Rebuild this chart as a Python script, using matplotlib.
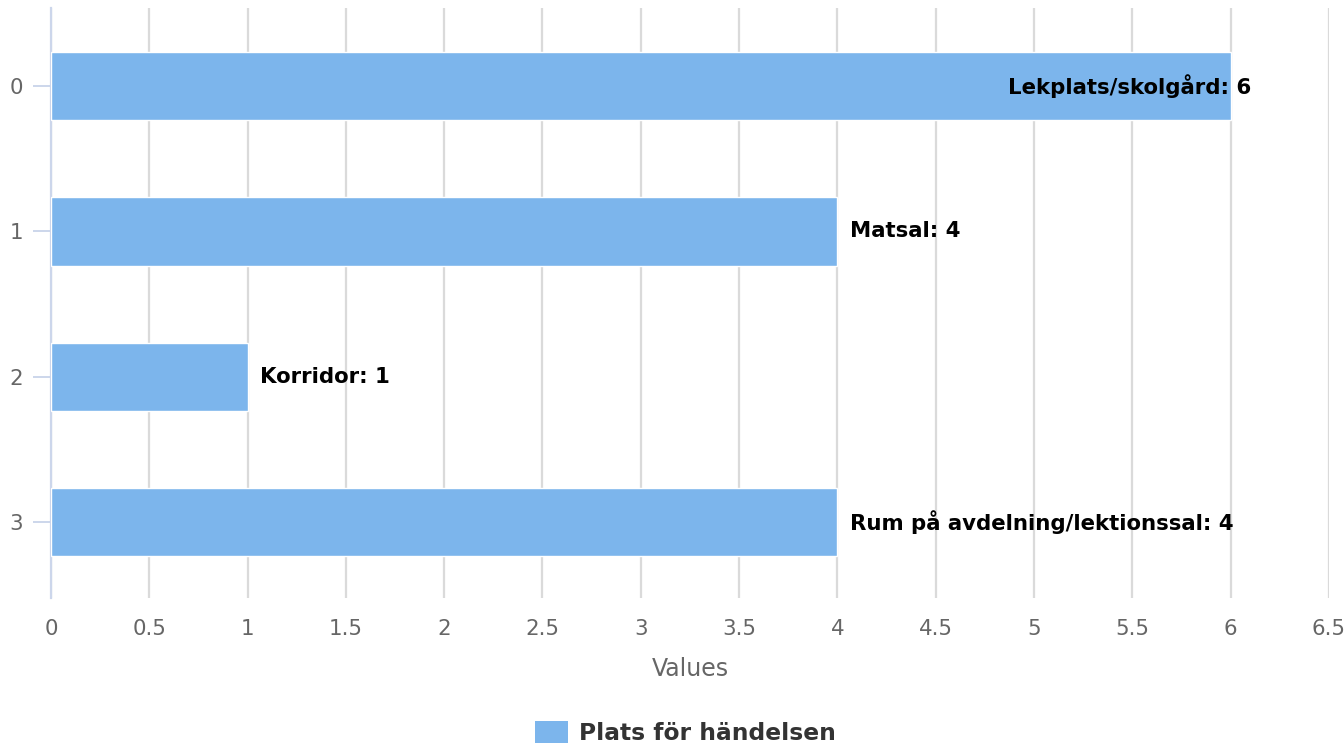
import matplotlib.pyplot as plt
from matplotlib.patches import Patch

plt.rcParams['font.family'] = ['DejaVu Sans']

categories = ['0', '1', '2', '3']
places = ['Lekplats/skolgård', 'Matsal', 'Korridor', 'Rum på avdelning/lektionssal']
counts = [6, 4, 1, 4]
series_name = 'Plats för händelsen'
x_ticks = [0, 0.5, 1, 1.5, 2, 2.5, 3, 3.5, 4, 4.5, 5, 5.5, 6, 6.5]

bar_color = '#7cb5ec'

fig = plt.figure(figsize=(13.44, 7.49), dpi=100)
ax = fig.add_axes([0.0379, 0.2016, 0.9509, 0.7877])

ypos = list(range(len(categories)))
ax.barh(ypos, counts, height=0.47, color=bar_color, edgecolor='white', linewidth=1, zorder=3)

ax.set_xlim(0, 6.5)
ax.set_ylim(3.523, -0.537)
ax.set_xticks(x_ticks)
ax.set_xticklabels([('%g' % t) for t in x_ticks])
ax.set_yticks(ypos)
ax.set_yticklabels(categories)

ax.grid(axis='x', color='#dadada', linewidth=1.6, zorder=0)
for s in ['top', 'right', 'bottom']:
    ax.spines[s].set_visible(False)
ax.spines['left'].set_color('#ccd6eb')
ax.spines['left'].set_linewidth(1.6)

ax.tick_params(axis='x', length=0, pad=15, labelsize=15.4, labelcolor='#666666')
ax.tick_params(axis='y', length=13, width=1.4, color='#ccd6eb', pad=7, labelsize=15.4, labelcolor='#666666')
ax.set_xlabel('Values', fontsize=17, color='#666666', labelpad=13)

# data labels
for i, (name, v) in enumerate(zip(places, counts)):
    txt = f'{name}: {v}'
    if v == max(counts):
        ax.annotate(txt, (v, i), xytext=(15, 0), textcoords='offset points',
                    ha='right', va='center', fontsize=15.3, fontweight='bold', color='black', zorder=4)
    else:
        ax.annotate(txt, (v, i), xytext=(9, 0), textcoords='offset points',
                    ha='left', va='center', fontsize=15.3, fontweight='bold', color='black', zorder=4)

handle = Patch(facecolor=bar_color, edgecolor='none')
fig.legend([handle], [series_name], loc='center', bbox_to_anchor=(0.51, 0.0214),
           frameon=False, prop={'size': 16.8, 'weight': 'bold'}, labelcolor='#333333',
           handlelength=1.4, handleheight=1.05, handletextpad=0.45)

fig.savefig('out.png', dpi=100)
